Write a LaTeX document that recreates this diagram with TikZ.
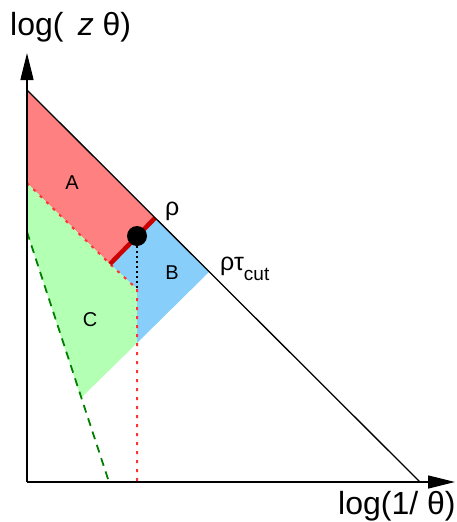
\documentclass[tikz,border=0pt]{standalone}
\usepackage{fontspec}
\setmainfont{Liberation Sans}
\usepackage{tikz}
\usetikzlibrary{arrows.meta}
\definecolor{regA}{RGB}{255,128,128}
\definecolor{regB}{RGB}{135,206,250}
\definecolor{regC}{RGB}{179,255,179}
\tikzset{
  ax/.style={-{Triangle[length=27pt,width=13pt]}, line width=1.3pt, black},
  bd/.style={line width=1.3pt, black},
  rcut/.style={line width=4.5pt, red!80!black},
  rdot/.style={line width=2pt, red!80, dash pattern=on 3pt off 6pt},
  kdot/.style={line width=1.6pt, dash pattern=on 2pt off 3pt},
  gdash/.style={line width=1.8pt, green!50!black, dash pattern=on 8pt off 6pt},
  lbl/.style={font=\fontsize{20}{22}\selectfont, inner sep=0pt},
  glbl/.style={font=\fontsize{25}{28}\selectfont, inner sep=0pt, anchor=base west},
  axl/.style={font=\fontsize{32}{36}\selectfont, inner sep=0pt, anchor=base west}
}
\begin{document}
\begin{tikzpicture}[x=1pt,y=-1pt]
  \useasboundingbox (0,0) rectangle (457,522);
  % corner points
  \coordinate (o) at (27,482);
  \coordinate (ytip) at (27,53);
  \coordinate (xtip) at (455,482);
  \coordinate (top) at (27,90);
  \coordinate (base) at (420,482);
  \coordinate (rho) at (155,218);
  \coordinate (rtc) at (209,272);
  \coordinate (cl) at (110,264);
  \coordinate (al) at (27,183);
  \coordinate (kn) at (137,289);
  \coordinate (bb) at (137,343);
  \coordinate (cb) at (81,398);
  \coordinate (gl) at (27,232);
  \coordinate (gx) at (109,482);
  \coordinate (rx) at (137,482);
  % regions
  \fill[regA] (top) -- (rho) -- (cl) -- (al) -- cycle;
  \fill[regB] (rho) -- (rtc) -- (bb) -- (kn) -- (cl) -- cycle;
  \fill[regC] (al) -- (cl) -- (kn) -- (bb) -- (cb) -- (gl) -- cycle;
  % boundaries
  \draw[rdot] (al) -- (cl) -- (kn) -- (rx);
  \draw[gdash] (gl) -- (gx);
  \draw[rcut] (cl) -- (rho);
  \draw[bd] (top) -- (base);
  \draw[ax] (o) -- (ytip);
  \draw[ax] (o) -- (xtip);
  \node[circle, fill=black, minimum size=20pt, inner sep=0pt] (pt) at (137,236) {};
  \draw[kdot] (pt.south) -- (kn);
  % labels
  \node[lbl] (la) at (72,183) {A};
  \node[lbl] (lb) at (172,273) {B};
  \node[lbl] (lc) at (90,320) {C};
  \node[glbl] (lr) at (165,215) {ρ};
  \node[glbl] (lt) at (220,270) {ρτ\raisebox{-10pt}{\fontsize{19}{20}\selectfont cut}};
  \node[axl] (ly) at (10,35) {log( \,\textit{z} θ)};
  \node[axl] (lx) at (338,514) {log(1/ θ)};
\end{tikzpicture}
\end{document}
